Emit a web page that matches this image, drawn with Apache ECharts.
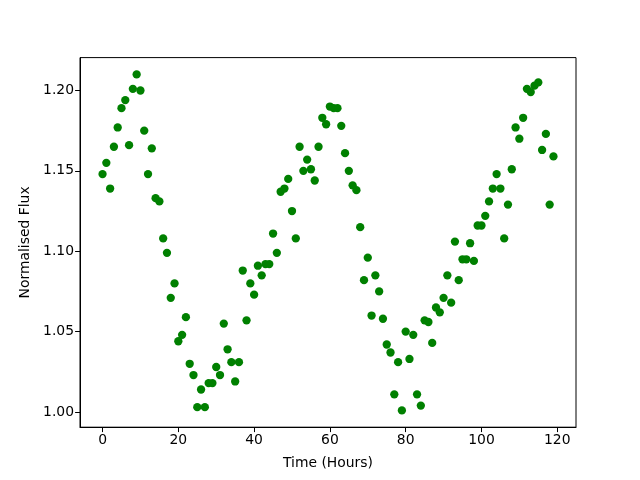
<!DOCTYPE html>
<html><head><meta charset="utf-8">
<script src="https://cdn.jsdelivr.net/npm/echarts@6/dist/echarts.min.js"></script>
<style>html,body{margin:0;padding:0;background:#fff}#c{width:640px;height:480px}</style>
</head><body><div id="c"></div>
<script>
const hours = Array.from({length:120},(_,i)=>i);
const flux = [
1.148,1.155,1.139,1.165,1.177,1.189,1.194,1.166,1.201,1.210,
1.200,1.175,1.148,1.164,1.133,1.131,1.108,1.099,1.071,1.080,
1.044,1.048,1.059,1.030,1.023,1.003,1.014,1.003,1.018,1.018,
1.028,1.023,1.055,1.039,1.031,1.019,1.031,1.088,1.057,1.080,
1.073,1.091,1.085,1.092,1.092,1.111,1.099,1.137,1.139,1.145,
1.125,1.108,1.165,1.150,1.157,1.151,1.144,1.165,1.183,1.179,
1.190,1.189,1.189,1.178,1.161,1.150,1.141,1.138,1.115,1.082,
1.096,1.060,1.085,1.075,1.058,1.042,1.037,1.011,1.031,1.001,
1.050,1.033,1.048,1.011,1.004,1.057,1.056,1.043,1.065,1.062,
1.071,1.085,1.068,1.106,1.082,1.095,1.095,1.105,1.094,1.116,
1.116,1.122,1.131,1.139,1.148,1.139,1.108,1.129,1.151,1.177,
1.170,1.183,1.201,1.199,1.203,1.205,1.163,1.173,1.129,1.159];
const xTicks = [0,20,40,60,80,100,120];
const yTicks = [1.00,1.05,1.10,1.15,1.20];
const xName = 'Time (Hours)';
const yName = 'Normalised Flux';

const fam = 'DejaVu Sans';
const fs = 13.9;
const xmin = -5.95, xmax = 124.95;
const fmin = Math.min(...flux), fmax = Math.max(...flux);
const ypad = (fmax - fmin) * 0.05;
const chart = echarts.init(document.getElementById('c'), null, {renderer:'canvas'});
chart.setOption({
  animation:false,
  grid:{left:80, right:64, top:57.6, bottom:52.8, show:true, borderColor:'#000', borderWidth:1, backgroundColor:'transparent'},
  xAxis:{type:'value', min:xmin, max:xmax, name:xName, nameLocation:'middle', nameGap:29,
    nameTextStyle:{fontFamily:fam, fontSize:fs, color:'#000'},
    axisLine:{show:true, onZero:false, lineStyle:{color:'#000', width:1}},
    axisTick:{show:true, length:4.9, inside:false, customValues:xTicks, lineStyle:{color:'#000', width:1}},
    axisLabel:{customValues:xTicks, fontFamily:fam, fontSize:fs, color:'#000', margin:6, showMinLabel:true, showMaxLabel:true},
    splitLine:{show:false}},
  yAxis:{type:'value', min:fmin-ypad, max:fmax+ypad, name:yName, nameLocation:'middle', nameGap:45,
    nameTextStyle:{fontFamily:fam, fontSize:fs, color:'#000'},
    axisLine:{show:true, onZero:false, lineStyle:{color:'#000', width:1}},
    axisTick:{show:true, length:4.9, customValues:yTicks, lineStyle:{color:'#000', width:1}},
    axisLabel:{customValues:yTicks, fontFamily:fam, fontSize:fs, color:'#000', margin:6, formatter:v=>v.toFixed(2)},
    splitLine:{show:false}},
  series:[{type:'scatter', data:hours.map((h,i)=>[h,flux[i]]), symbol:'circle', symbolSize:8.3,
    itemStyle:{color:'#008000', opacity:1}}]
});
</script></body></html>
